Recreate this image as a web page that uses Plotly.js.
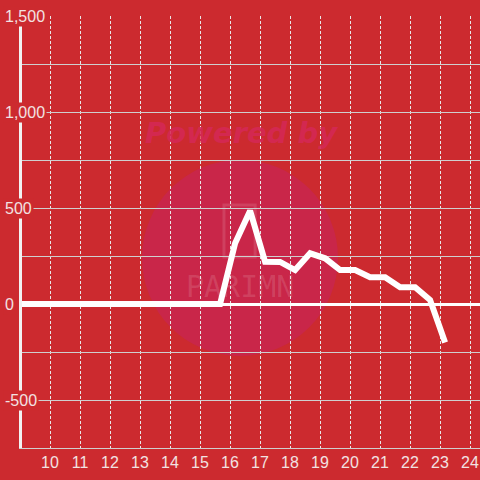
<!DOCTYPE html>
<html>
<head>
<meta charset="utf-8">
<script src="https://cdn.plot.ly/plotly-3.0.1.min.js"></script>
<style>html,body{margin:0;padding:0;background:#cc2a2f;}#chart{width:480px;height:480px;}</style>
</head>
<body>
<div id="chart"></div>
<script>
// Time of day (hours) and values
const times = [8.67, 9.17, 9.67, 10.17, 10.67, 11.17, 11.67, 12.17, 12.67, 13.17, 13.67, 14.17, 14.67, 15.17, 15.67,
               16.17, 16.67, 17.17, 17.67, 18.17, 18.67, 19.17, 19.67, 20.17, 20.67, 21.17, 21.67, 22.17, 22.67, 23.17];
const values = [0, 0, 0, 0, 0, 0, 0, 0, 0, 0, 0, 0, 0, 0, 0,
                316, 486, 220, 219, 177, 264, 238, 177, 177, 139, 139, 87, 87, 21, -200];
const xTickVals = [10, 11, 12, 13, 14, 15, 16, 17, 18, 19, 20, 21, 22, 23, 24];
const xTickText = ['10', '11', '12', '13', '14', '15', '16', '17', '18', '19', '20', '21', '22', '23', '24'];
const yTickVals = [1500, 1000, 500, 0, -500];
const yTickText = ['1,500', '1,000', '500', '0', '-500'];

const BG = '#cc2a2f';
const LABEL = '#f2e2e2';
const FONT = 'Liberation Sans, Arial, sans-serif';

const trace = {
  x: times, y: values, type: 'scatter', mode: 'lines',
  line: {color: '#ffffff', width: 6},
  hoverinfo: 'skip'
};

const annotations = yTickVals.map((v, i) => ({
  xref: 'paper', yref: 'y', x: -0.041, y: v, xanchor: 'left', yanchor: 'middle',
  text: yTickText[i], showarrow: false, bgcolor: BG, borderpad: 1,
  font: {family: FONT, size: 16, color: LABEL}
}));
annotations.push({
  xref: 'paper', yref: 'paper', x: 0.48, y: 0.729, xanchor: 'center', yanchor: 'middle',
  text: 'Powered by', showarrow: false,
  font: {family: 'DejaVu Sans', size: 29, color: 'rgba(212,40,85,0.9)', weight: 'bold', style: 'italic'}
});
annotations.push({
  xref: 'paper', yref: 'paper', x: 0.476, y: 0.373, xanchor: 'center', yanchor: 'middle',
  text: 'PARIMN', showarrow: false,
  font: {family: 'DejaVu Sans Mono', size: 30, color: 'rgba(255,255,255,0.13)'}
});

const layout = {
  width: 480, height: 480,
  margin: {l: 22, r: 0, t: 16, b: 32, pad: 0},
  paper_bgcolor: BG, plot_bgcolor: 'rgba(0,0,0,0)',
  showlegend: false,
  xaxis: {
    range: [9.0667, 24.3333], tickmode: 'array', tickvals: xTickVals, ticktext: xTickText,
    showgrid: true, gridcolor: '#e8e8e8', gridwidth: 1, griddash: '3px,2px',
    zeroline: false, showline: true, linecolor: '#cfcfcf', linewidth: 1, ticks: '',
    tickfont: {family: FONT, size: 16, color: LABEL}, fixedrange: true
  },
  yaxis: {
    range: [-750, 1500], dtick: 250, tick0: 0, showticklabels: false, ticks: '',
    showgrid: true, gridcolor: '#cfcfcf', gridwidth: 1,
    zeroline: true, zerolinecolor: '#ffffff', zerolinewidth: 3,
    showline: true, linecolor: '#f2f2f2', linewidth: 3, fixedrange: true
  },
  shapes: [
    {type: 'circle', xref: 'paper', yref: 'paper', x0: 0.262, x1: 0.690, y0: 0.213, y1: 0.667,
     fillcolor: 'rgba(200,38,78,0.85)', line: {width: 0}, layer: 'below'},
    {type: 'rect', xref: 'paper', yref: 'paper', x0: 0.441, x1: 0.509, y0: 0.442, y1: 0.5625,
     fillcolor: 'rgba(0,0,0,0)', line: {width: 3, color: 'rgba(255,255,255,0.12)'}, layer: 'below'}
  ],
  annotations: annotations
};

Plotly.newPlot('chart', [trace], layout, {displayModeBar: false, staticPlot: true});
</script>
</body>
</html>
